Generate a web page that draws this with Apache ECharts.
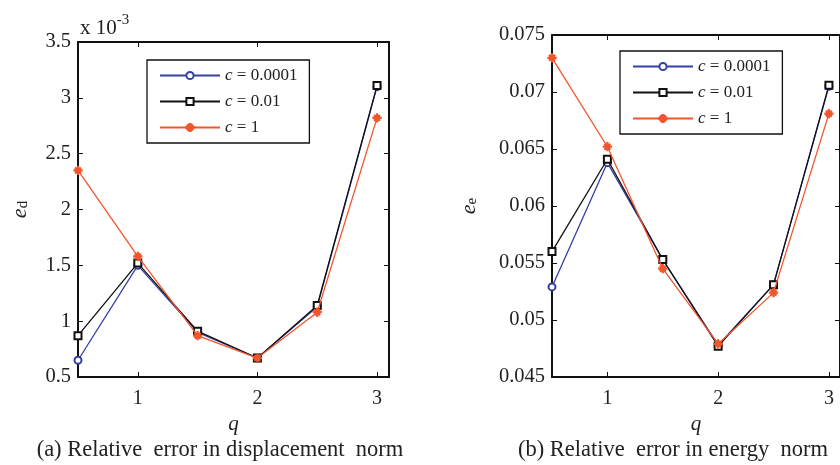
<!DOCTYPE html>
<html>
<head>
<meta charset="utf-8">
<script src="https://cdn.jsdelivr.net/npm/echarts@6/dist/echarts.min.js"></script>
<style>
  html, body { margin: 0; padding: 0; background: #fff; }
  #chart { width: 840px; height: 465px; }
</style>
</head>
<body>
<div id="chart"></div>
<script>
// q values, shared by both panels
const q = [0.5, 1, 1.5, 2, 2.5, 3]
const xTicks = [1, 2, 3]

// (a) displacement norm error, in units of 1e-3
const edSmall = [0.65, 1.50, 0.90, 0.67, 1.13, 3.10]
const edMid = [0.87, 1.52, 0.91, 0.67, 1.14, 3.11]
const edOne = [2.35, 1.58, 0.87, 0.67, 1.08, 2.82]

// (b) energy norm error
const eeSmall = [0.0529, 0.0638, 0.0553, 0.0478, 0.0531, 0.0705]
const eeMid = [0.0560, 0.0641, 0.0553, 0.0477, 0.0531, 0.0706]
const eeOne = [0.0730, 0.0652, 0.0545, 0.0479, 0.0524, 0.0681]

const names = ['c = 0.0001', 'c = 0.01', 'c = 1']
const colors = ['#3540a6', '#111111', '#f2552c']
const FONT = '"Liberation Serif", "DejaVu Serif", serif'

const star = 'path://M-0.6,-5L0.6,-5L0.6,5L-0.6,5Z M-5,-0.6L5,-0.6L5,0.6L-5,0.6Z M-3.5,-2.7L-2.7,-3.5L3.5,2.7L2.7,3.5Z M2.7,-3.5L3.5,-2.7L-2.7,3.5L-3.5,2.7Z'
const symbols = ['emptyCircle', 'emptyRect', star]
const symbolSizes = [7, 7, 8]

const chart = echarts.init(document.getElementById('chart'))

const pair = arr => arr.map((v, i) => [q[i], v])

const makeSeries = (gi, arrays) => arrays.map((arr, k) => ({
  name: names[k],
  type: 'line',
  xAxisIndex: gi * 2,
  yAxisIndex: gi * 2,
  data: pair(arr),
  symbol: symbols[k],
  symbolSize: symbolSizes[k],
  showAllSymbol: true,
  lineStyle: { color: colors[k], width: 1.3 },
  itemStyle: { color: colors[k], borderColor: colors[k], borderWidth: 1.3 },
  z: 3 + k
}))

const axisLine = { show: true, onZero: false, lineStyle: { color: '#111', width: 2 } }
const tick = { inside: true, length: 5, lineStyle: { color: '#111', width: 1 } }

const xPair = gi => [
  {
    gridIndex: gi, type: 'value', min: 0.5, max: 3.1, position: 'bottom',
    axisLine,
    axisTick: { ...tick, customValues: xTicks },
    axisLabel: { customValues: xTicks, margin: 12, fontFamily: FONT, fontSize: 20, color: '#222' },
    splitLine: { show: false },
    name: 'q', nameLocation: 'middle', nameGap: 37,
    nameTextStyle: { fontFamily: FONT, fontSize: 21, fontStyle: 'italic', color: '#222' }
  },
  {
    gridIndex: gi, type: 'value', min: 0.5, max: 3.1, position: 'top',
    axisLine,
    axisTick: { ...tick, customValues: xTicks },
    axisLabel: { show: false },
    splitLine: { show: false }
  }
]

const yPair = (gi, min, max, interval, gap, sub, fmt) => [
  {
    gridIndex: gi, type: 'value', min, max, interval, position: 'left',
    axisLine, axisTick: tick,
    axisLabel: { margin: 7, fontFamily: FONT, fontSize: 20.5, color: '#222', formatter: fmt },
    splitLine: { show: false },
    name: '{e|e}{s|' + sub + '}', nameLocation: 'middle', nameGap: gap, nameRotate: 90,
    nameTextStyle: {
      rich: {
        e: { fontFamily: FONT, fontSize: 22, fontStyle: 'italic', color: '#222', verticalAlign: 'bottom' },
        s: { fontFamily: FONT, fontSize: 15, color: '#222', verticalAlign: 'bottom', lineHeight: 30 }
      }
    }
  },
  {
    gridIndex: gi, type: 'value', min, max, interval, position: 'right',
    axisLine, axisTick: tick,
    axisLabel: { show: false },
    splitLine: { show: false }
  }
]

const legendRich = {
  i: { fontFamily: FONT, fontSize: 17, fontStyle: 'italic', color: '#222' },
  n: { fontFamily: FONT, fontSize: 17, color: '#222' }
}
const makeLegend = (left, top) => ({
  left, top,
  orient: 'vertical',
  data: names,
  itemWidth: 60,
  itemHeight: 9,
  itemGap: 9,
  padding: [7, 12, 7, 12],
  borderColor: '#111',
  borderWidth: 1.3,
  backgroundColor: '#fff',
  selectedMode: false,
  formatter: n => '{i|c}{n|' + n.slice(1) + '}',
  textStyle: { rich: legendRich, lineHeight: 17 }
})

const captionStyle = { fontFamily: FONT, fontSize: 22.5, fontWeight: 'normal', color: '#222' }

chart.setOption({
  animation: false,
  backgroundColor: '#fff',
  grid: [
    { left: 78, top: 42, width: 311, height: 335 },
    { left: 552, top: 35, width: 289, height: 342 }
  ],
  xAxis: [...xPair(0), ...xPair(1)],
  yAxis: [
    ...yPair(0, 0.5, 3.5, 0.5, 47, 'd', v => String(+v.toFixed(1))),
    ...yPair(1, 0.045, 0.075, 0.005, 72, 'e', v => String(+v.toFixed(3)))
  ],
  legend: [makeLegend(147, 60), makeLegend(620, 51)],
  title: [
    { text: '(a) Relative  error in displacement  norm', left: 215, top: 434, textAlign: 'center', textStyle: captionStyle },
    { text: '(b) Relative  error in energy  norm', left: 668, top: 434, textAlign: 'center', textStyle: captionStyle }
  ],
  graphic: [{
    type: 'text', left: 80, top: 13,
    style: {
      text: 'x 10{sup|-3}',
      font: '21px ' + FONT,
      fill: '#222',
      rich: { sup: { fontFamily: FONT, fontSize: 15, fill: '#222', verticalAlign: 'top', padding: [0, 0, 16, 0] } }
    }
  }],
  series: [
    ...makeSeries(0, [edSmall, edMid, edOne]),
    ...makeSeries(1, [eeSmall, eeMid, eeOne])
  ]
})
</script>
</body>
</html>
